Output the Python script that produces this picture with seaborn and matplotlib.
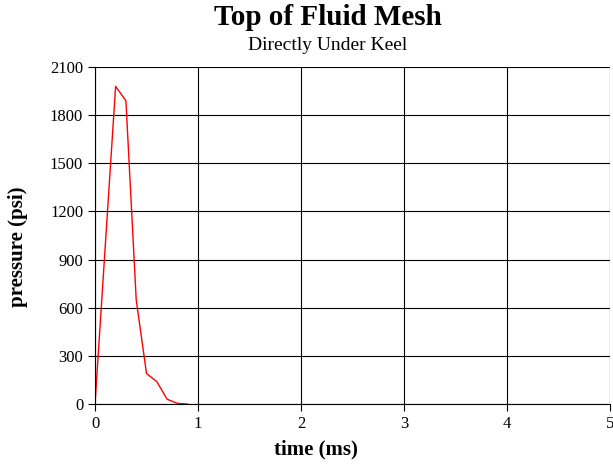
import matplotlib
matplotlib.use("Agg")
import matplotlib.pyplot as plt
import seaborn as sns
import pandas as pd

# -------------------------------
# Data
# -------------------------------
time_ms = [0.0, 0.1, 0.2, 0.3, 0.4, 0.5, 0.6, 0.7, 0.8, 0.9]
pressure_psi = [0, 990, 1980, 1890, 650, 190, 140, 30, 4, 0]
x_ticks = [0, 1, 2, 3, 4, 5]
y_ticks = [0, 300, 600, 900, 1200, 1500, 1800, 2100]

df = pd.DataFrame({"time": time_ms, "pressure": pressure_psi})

# -------------------------------
# Style
# -------------------------------
sns.set_style("white")
plt.rcParams["font.family"] = ["Liberation Serif", "DejaVu Serif"]
plt.rcParams["text.color"] = "black"
plt.rcParams["axes.labelcolor"] = "black"

fig = plt.figure(figsize=(6.13, 4.66), dpi=100)
ax = fig.add_axes([0.155, 0.133, 0.840, 0.723])

sns.lineplot(data=df, x="time", y="pressure", color="red", linewidth=1.0, ax=ax)

ax.set_xlim(0, 5)
ax.set_ylim(0, 2100)
ax.set_xticks(x_ticks)
ax.set_yticks(y_ticks)
ax.grid(True, color="black", linewidth=0.8)
ax.set_axisbelow(True)

for side in ["top", "right"]:
    ax.spines[side].set_visible(False)
for side in ["left", "bottom"]:
    ax.spines[side].set_color("black")
    ax.spines[side].set_linewidth(0.8)

ax.tick_params(axis="both", direction="out", length=5, width=0.8,
               colors="black", labelsize=12, left=True, bottom=True)

ax.set_xlabel("time (ms)", fontsize=15, fontweight="bold")
ax.set_ylabel("pressure (psi)", fontsize=15, fontweight="bold")
ax.xaxis.set_label_coords(0.43, -0.105)
ax.yaxis.set_label_coords(-0.13, 0.466)

fig.text(0.535, 0.962, "Top of Fluid Mesh", ha="center", va="center",
         fontsize=21, fontweight="bold")
fig.text(0.535, 0.903, "Directly Under Keel", ha="center", va="center",
         fontsize=14)

fig.savefig("out.png", dpi=100)
